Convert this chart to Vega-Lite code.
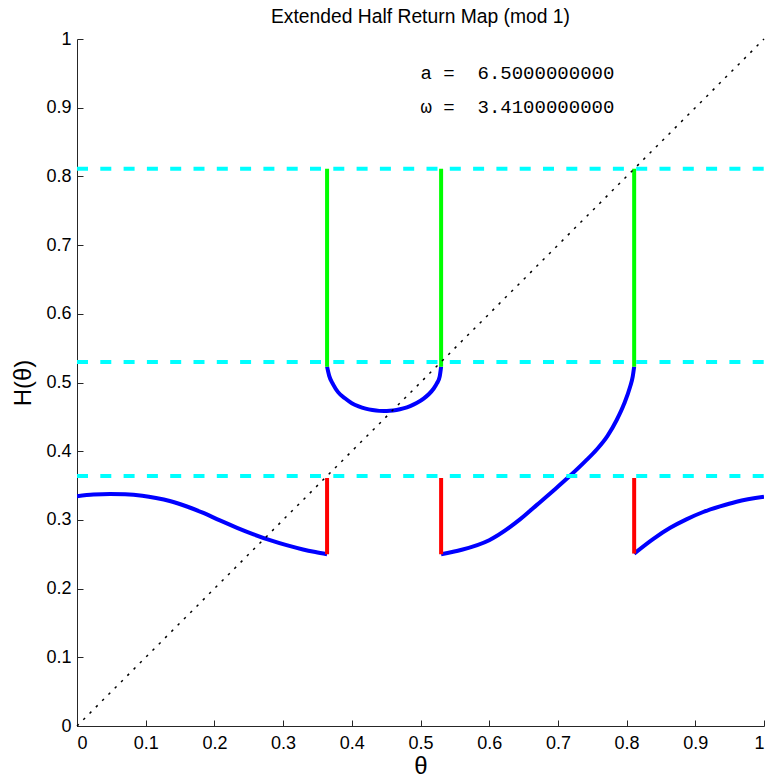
{
  "$schema": "https://vega.github.io/schema/vega-lite/v6.json",
  "width": 687,
  "height": 687,
  "autosize": {"type": "none"},
  "padding": {"left": 77, "top": 39, "right": 1, "bottom": 52},
  "background": "white",
  "title": {
    "text": "Extended Half Return Map (mod 1)",
    "font": "Liberation Sans",
    "fontSize": 19.3,
    "fontWeight": "normal",
    "color": "#000000",
    "anchor": "middle",
    "baseline": "alphabetic",
    "offset": -12
  },
  "config": {
    "view": {"stroke": null},
    "axis": {
      "grid": false,
      "domainColor": "#262626",
      "domainWidth": 1,
      "tickColor": "#262626",
      "tickWidth": 1,
      "tickSize": -6,
      "labelFont": "Liberation Sans",
      "labelFontSize": 18,
      "labelColor": "#000000",
      "titleFont": "Liberation Sans",
      "titleFontSize": 24,
      "titleFontWeight": "normal",
      "titleColor": "#000000"
    }
  },
  "datasets": {
    "curves": [
      {"seg": "b1", "kind": "blue", "t": 0.0, "h": 0.3345},
      {"seg": "b1", "kind": "blue", "t": 0.024, "h": 0.3368},
      {"seg": "b1", "kind": "blue", "t": 0.048, "h": 0.3377},
      {"seg": "b1", "kind": "blue", "t": 0.07, "h": 0.3372},
      {"seg": "b1", "kind": "blue", "t": 0.095, "h": 0.335},
      {"seg": "b1", "kind": "blue", "t": 0.115, "h": 0.3318},
      {"seg": "b1", "kind": "blue", "t": 0.135, "h": 0.3275},
      {"seg": "b1", "kind": "blue", "t": 0.16, "h": 0.3195},
      {"seg": "b1", "kind": "blue", "t": 0.183, "h": 0.3105},
      {"seg": "b1", "kind": "blue", "t": 0.208, "h": 0.2992},
      {"seg": "b1", "kind": "blue", "t": 0.233, "h": 0.2885},
      {"seg": "b1", "kind": "blue", "t": 0.257, "h": 0.279},
      {"seg": "b1", "kind": "blue", "t": 0.281, "h": 0.2705},
      {"seg": "b1", "kind": "blue", "t": 0.305, "h": 0.2632},
      {"seg": "b1", "kind": "blue", "t": 0.329, "h": 0.257},
      {"seg": "b1", "kind": "blue", "t": 0.347, "h": 0.2532},
      {"seg": "b1", "kind": "blue", "t": 0.364, "h": 0.25},
      {"seg": "b2", "kind": "blue", "t": 0.364, "h": 0.523},
      {"seg": "b2", "kind": "blue", "t": 0.367, "h": 0.51},
      {"seg": "b2", "kind": "blue", "t": 0.373, "h": 0.497},
      {"seg": "b2", "kind": "blue", "t": 0.38, "h": 0.486},
      {"seg": "b2", "kind": "blue", "t": 0.39, "h": 0.477},
      {"seg": "b2", "kind": "blue", "t": 0.4, "h": 0.4699},
      {"seg": "b2", "kind": "blue", "t": 0.41, "h": 0.4653},
      {"seg": "b2", "kind": "blue", "t": 0.42, "h": 0.462},
      {"seg": "b2", "kind": "blue", "t": 0.43, "h": 0.4599},
      {"seg": "b2", "kind": "blue", "t": 0.44, "h": 0.4587},
      {"seg": "b2", "kind": "blue", "t": 0.447, "h": 0.4585},
      {"seg": "b2", "kind": "blue", "t": 0.455, "h": 0.4588},
      {"seg": "b2", "kind": "blue", "t": 0.465, "h": 0.46},
      {"seg": "b2", "kind": "blue", "t": 0.475, "h": 0.4623},
      {"seg": "b2", "kind": "blue", "t": 0.485, "h": 0.4657},
      {"seg": "b2", "kind": "blue", "t": 0.495, "h": 0.4704},
      {"seg": "b2", "kind": "blue", "t": 0.505, "h": 0.4769},
      {"seg": "b2", "kind": "blue", "t": 0.512, "h": 0.4829},
      {"seg": "b2", "kind": "blue", "t": 0.519, "h": 0.4909},
      {"seg": "b2", "kind": "blue", "t": 0.524, "h": 0.499},
      {"seg": "b2", "kind": "blue", "t": 0.528, "h": 0.509},
      {"seg": "b2", "kind": "blue", "t": 0.53, "h": 0.523},
      {"seg": "b3", "kind": "blue", "t": 0.53, "h": 0.25},
      {"seg": "b3", "kind": "blue", "t": 0.56, "h": 0.2565},
      {"seg": "b3", "kind": "blue", "t": 0.6, "h": 0.2705},
      {"seg": "b3", "kind": "blue", "t": 0.6448, "h": 0.3007},
      {"seg": "b3", "kind": "blue", "t": 0.669, "h": 0.3215},
      {"seg": "b3", "kind": "blue", "t": 0.6933, "h": 0.3425},
      {"seg": "b3", "kind": "blue", "t": 0.718, "h": 0.3645},
      {"seg": "b3", "kind": "blue", "t": 0.74, "h": 0.3855},
      {"seg": "b3", "kind": "blue", "t": 0.7565, "h": 0.4025},
      {"seg": "b3", "kind": "blue", "t": 0.772, "h": 0.422},
      {"seg": "b3", "kind": "blue", "t": 0.7856, "h": 0.4454},
      {"seg": "b3", "kind": "blue", "t": 0.7967, "h": 0.4697},
      {"seg": "b3", "kind": "blue", "t": 0.805, "h": 0.4935},
      {"seg": "b3", "kind": "blue", "t": 0.8089, "h": 0.5085},
      {"seg": "b3", "kind": "blue", "t": 0.811, "h": 0.523},
      {"seg": "b4", "kind": "blue", "t": 0.811, "h": 0.251},
      {"seg": "b4", "kind": "blue", "t": 0.839, "h": 0.2725},
      {"seg": "b4", "kind": "blue", "t": 0.8635, "h": 0.2885},
      {"seg": "b4", "kind": "blue", "t": 0.887, "h": 0.3008},
      {"seg": "b4", "kind": "blue", "t": 0.9115, "h": 0.3115},
      {"seg": "b4", "kind": "blue", "t": 0.936, "h": 0.3197},
      {"seg": "b4", "kind": "blue", "t": 0.96, "h": 0.3265},
      {"seg": "b4", "kind": "blue", "t": 1.0, "h": 0.3337},
      {"seg": "r1", "kind": "red", "t": 0.364, "h": 0.25},
      {"seg": "r1", "kind": "red", "t": 0.364, "h": 0.361},
      {"seg": "r2", "kind": "red", "t": 0.53, "h": 0.25},
      {"seg": "r2", "kind": "red", "t": 0.53, "h": 0.361},
      {"seg": "r3", "kind": "red", "t": 0.811, "h": 0.251},
      {"seg": "r3", "kind": "red", "t": 0.811, "h": 0.361},
      {"seg": "g1", "kind": "green", "t": 0.364, "h": 0.523},
      {"seg": "g1", "kind": "green", "t": 0.364, "h": 0.811},
      {"seg": "g2", "kind": "green", "t": 0.53, "h": 0.523},
      {"seg": "g2", "kind": "green", "t": 0.53, "h": 0.811},
      {"seg": "g3", "kind": "green", "t": 0.811, "h": 0.523},
      {"seg": "g3", "kind": "green", "t": 0.811, "h": 0.811}
    ],
    "levels": [
      {"t0": 0, "t1": 1, "h": 0.364},
      {"t0": 0, "t1": 1, "h": 0.53},
      {"t0": 0, "t1": 1, "h": 0.811}
    ],
    "diag": [
      {"t": 0, "h": 0},
      {"t": 1, "h": 1}
    ],
    "notes": [
      {"label": "a\u00a0=\u00a0\u00a06.5000000000", "t": 0.5, "h": 0.9417},
      {"label": "ω\u00a0=\u00a0\u00a03.4100000000", "t": 0.5, "h": 0.8922}
    ]
  },
  "layer": [
    {
      "data": {"name": "curves"},
      "mark": {"type": "line", "strokeWidth": 4, "clip": true, "interpolate": "monotone"},
      "encoding": {
        "x": {
          "field": "t", "type": "quantitative",
          "scale": {"domain": [0, 1], "nice": false, "zero": false},
          "axis": {
            "title": "θ",
            "values": [0, 0.1, 0.2, 0.3, 0.4, 0.5, 0.6, 0.7, 0.8, 0.9, 1],
            "format": "~g",
            "labelPadding": 14,
            "titlePadding": 2
          }
        },
        "y": {
          "field": "h", "type": "quantitative",
          "scale": {"domain": [0, 1], "nice": false, "zero": false},
          "axis": {
            "title": "H(θ)",
            "values": [0, 0.1, 0.2, 0.3, 0.4, 0.5, 0.6, 0.7, 0.8, 0.9, 1],
            "format": "~g",
            "labelPadding": 12,
            "titlePadding": 10
          }
        },
        "color": {
          "field": "kind", "type": "nominal",
          "scale": {"domain": ["blue", "red", "green"], "range": ["#0000ff", "#ff0000", "#00ff00"]},
          "legend": null
        },
        "detail": {"field": "seg"}
      }
    },
    {
      "data": {"name": "levels"},
      "mark": {"type": "rule", "color": "#00ffff", "strokeWidth": 4, "strokeDash": [11, 12.3]},
      "encoding": {
        "x": {"field": "t0", "type": "quantitative"},
        "x2": {"field": "t1"},
        "y": {"field": "h", "type": "quantitative"}
      }
    },
    {
      "data": {"name": "diag"},
      "mark": {"type": "line", "color": "#000000", "strokeWidth": 1.5, "strokeDash": [2.5, 6.4]},
      "encoding": {
        "x": {"field": "t", "type": "quantitative"},
        "y": {"field": "h", "type": "quantitative"}
      }
    },
    {
      "data": {"name": "notes"},
      "mark": {"type": "text", "align": "left", "baseline": "alphabetic", "font": "Liberation Mono", "fontSize": 19, "color": "#000000"},
      "encoding": {
        "x": {"field": "t", "type": "quantitative"},
        "y": {"field": "h", "type": "quantitative"},
        "text": {"field": "label"}
      }
    }
  ]
}
